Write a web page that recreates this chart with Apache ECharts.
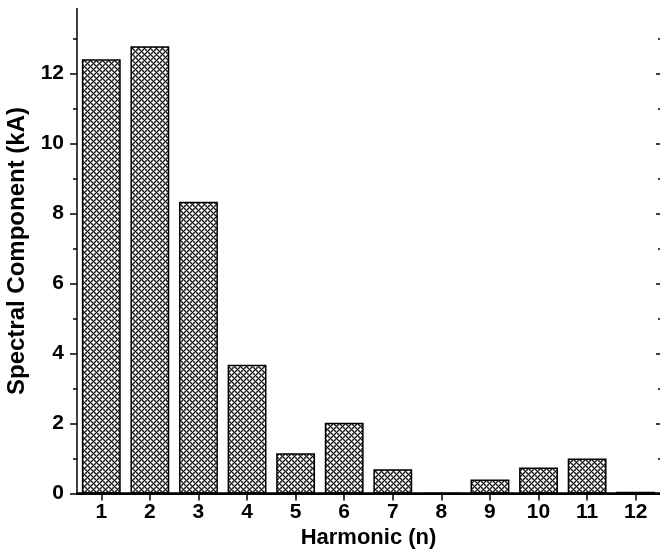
<!DOCTYPE html>
<html>
<head>
<meta charset="utf-8">
<script src="https://cdn.jsdelivr.net/npm/echarts@6/dist/echarts.min.js"></script>
<style>
html,body{margin:0;padding:0;background:#fff;}
#chart{width:660px;height:551px;}
</style>
</head>
<body>
<div id="chart"></div>
<script>
const categories = ['1','2','3','4','5','6','7','8','9','10','11','12'];
const spectral = [12.4, 12.77, 8.33, 3.68, 1.15, 2.02, 0.69, 0, 0.4, 0.74, 1.0, 0.05];
const majorTicks = [0, 2, 4, 6, 8, 10, 12];
const minorTicks = [1, 3, 5, 7, 9, 11, 13];
const yMax = 13.85;

function makePattern() {
  const n = 6;
  const c = document.createElement('canvas');
  c.width = n; c.height = n;
  const ctx = c.getContext('2d');
  const img = ctx.createImageData(n, n);
  const val = d => d === 0 ? 30 : ((d === 1 || d === n - 1) ? 135 : 255);
  for (let y = 0; y < n; y++) {
    for (let x = 0; x < n; x++) {
      const d1 = ((x - y) % n + n) % n;
      const d2 = (x + y) % n;
      let v = Math.min(val(d1), val(d2));
      if (d1 === 0 && d2 === 0) v = 0;
      const i = (y * n + x) * 4;
      img.data[i] = v; img.data[i + 1] = v; img.data[i + 2] = v; img.data[i + 3] = 255;
    }
  }
  ctx.putImageData(img, 0, 0);
  return c;
}

const font = "'Liberation Sans', Arial, sans-serif";
const chart = echarts.init(document.getElementById('chart'), null, {renderer: 'canvas'});

function yAx(pos, ticks, len, inside, lab, line) {
  return {
    type: 'value', position: pos, min: 0, max: yMax,
    axisLine: {show: line, lineStyle: {color: '#000', width: 1.5}},
    axisTick: {show: true, inside: inside, length: len, customValues: ticks, lineStyle: {color: '#000', width: 1.5}},
    axisLabel: lab ? {show: true, customValues: ticks, margin: 13, color: '#000', fontFamily: font, fontWeight: 'bold', fontSize: 21} : {show: false},
    splitLine: {show: false}
  };
}

const yAxes = [
  yAx('left', majorTicks, 7, false, true, true),
  yAx('left', minorTicks, 4, false, false, false),
  yAx('right', majorTicks, 4, true, false, false),
  yAx('right', minorTicks, 2, true, false, false)
];
yAxes[0].name = 'Spectral Component (kA)';
yAxes[0].nameLocation = 'middle';
yAxes[0].nameGap = 43;
yAxes[0].nameTextStyle = {color: '#000', fontFamily: font, fontWeight: 'bold', fontSize: 24};

chart.setOption({
  animation: false,
  backgroundColor: '#fff',
  grid: {left: 77, right: 0, top: 8.5, bottom: 57.5, containLabel: false, outerBoundsMode: 'none'},
  xAxis: [
    {
      type: 'category', data: categories, position: 'bottom',
      axisLine: {show: true, lineStyle: {color: '#000', width: 2.5}},
      axisTick: {show: false},
      axisLabel: {color: '#000', fontFamily: font, fontWeight: 'bold', fontSize: 21, margin: 8},
      name: 'Harmonic (n)', nameLocation: 'middle', nameGap: 32,
      nameTextStyle: {color: '#000', fontFamily: font, fontWeight: 'bold', fontSize: 22}
    },
    {
      type: 'category', data: categories, position: 'top',
      axisLine: {show: true, lineStyle: {color: '#000', width: 2}},
      axisTick: {show: true, inside: true, alignWithLabel: true, length: 7, lineStyle: {color: '#000', width: 1.5}},
      axisLabel: {show: false}
    }
  ],
  yAxis: yAxes,
  series: [{
    type: 'bar', data: spectral, xAxisIndex: 0, yAxisIndex: 0,
    barCategoryGap: '20%',
    itemStyle: {color: {image: makePattern(), repeat: 'repeat'}, borderColor: '#000', borderWidth: 1.5}
  }]
});
</script>
</body>
</html>
